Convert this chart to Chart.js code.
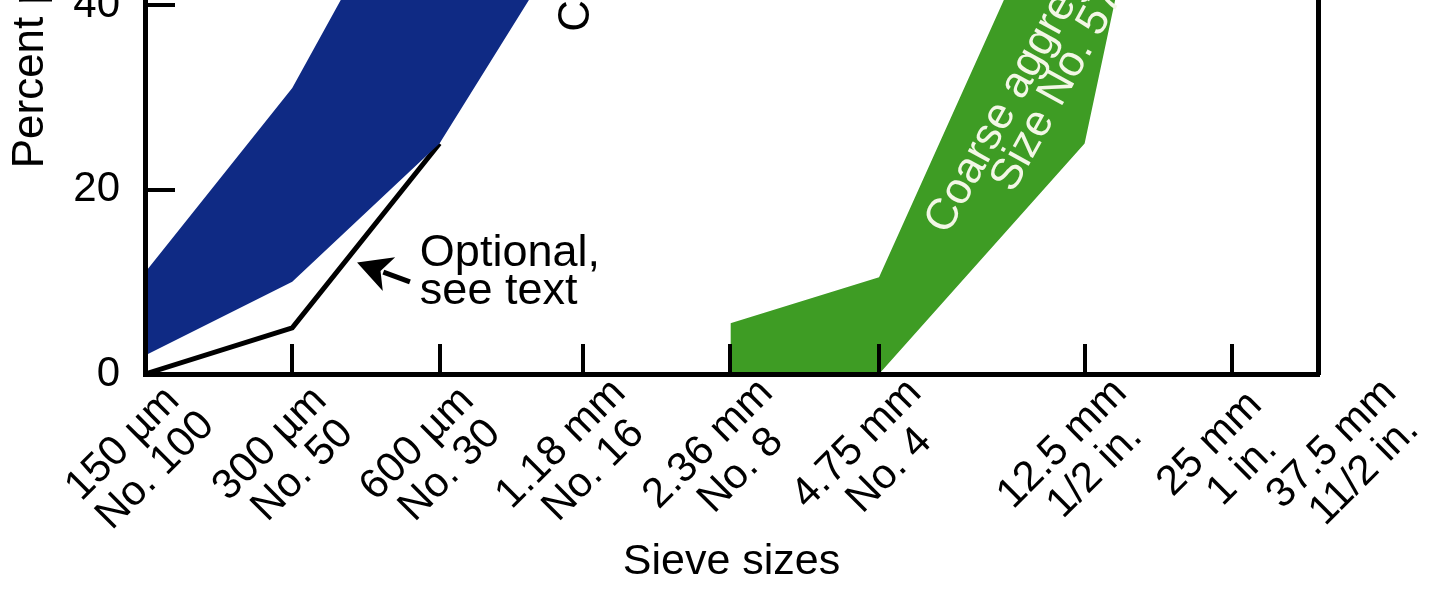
<!DOCTYPE html>
<html lang="en">
<head>
<meta charset="UTF-8">
<title>Grading limits – fine and coarse aggregate</title>
<script src="https://cdn.jsdelivr.net/npm/chart.js@4.4.1/dist/chart.umd.min.js"></script>
<style>
  html, body { margin: 0; padding: 0; background: #fff; overflow: hidden; }
  /* the figure is a crop: the plot runs on above the window */
  .wrap { position: absolute; left: 0; top: -60px; width: 1440px; height: 653px; }
</style>
</head>
<body>
<div class="wrap"><canvas id="grading"></canvas></div>
<script>
// sieve openings (mm) on a log axis
const sieveMm = [0.15, 0.3, 0.6, 1.18, 2.36, 4.75, 12.5, 25, 37.5];
const sieveLabels = [
  ['150 µm', 'No. 100'],
  ['300 µm', 'No. 50'],
  ['600 µm', 'No. 30'],
  ['1.18 mm', 'No. 16'],
  ['2.36 mm', 'No. 8'],
  ['4.75 mm', 'No. 4'],
  ['12.5 mm', '1/2 in.'],
  ['25 mm', '1 in.'],
  ['37.5 mm', '11/2 in.']
];
const percentTicks = [0, 20, 40];

// percent passing limits
const fineUpper    = [11, 31, 60, 85, 100, 100, null, null, null];
const fineLower    = [2, 10, 25, 50, 80, 95, null, null, null];
const optionalLine = [0, 5, 25, null, null, null, null, null, null];
const coarseUpper  = [null, null, null, null, 5.5, 10.5, 60, 100, 100];
const coarseLower  = [null, null, null, null, 0, 0, 25, 100, 100];

const FONT = "'Liberation Sans', Arial, Helvetica, sans-serif";
const BLUE = '#0f2a84';
const GREEN = '#3e9c24';

function toPoints(values) {
  return sieveMm.map((mm, i) => ({ x: mm, y: values[i] }));
}

// text + arrow, placed in data units
const notes = {
  optional: { x: 0.547, y: 11.7, lines: ['Optional,', 'see text'] },
  arrowTail: { x: 0.522, y: 10.0 },
  arrowTip: { x: 0.407, y: 12.1 },
  coarse: { x: 9.8, y: 31.7, angle: -61, lines: ['Coarse aggregate', 'Size No. 57'] },
  fine: { x: 1.21, y: 37.1, angle: -90, text: 'C' },
  yTitle: { y: 22.3, text: 'Percent passing' }
};

// sieve labels: two centred lines at 45 degrees below each tick
const sieveLabelPlugin = {
  id: 'sieveLabels',
  afterDraw(chart) {
    const { ctx, chartArea } = chart;
    const xs = chart.scales.x;
    const a = -Math.PI / 4, lh = 42;
    ctx.save();
    ctx.fillStyle = '#000';
    ctx.font = '42px ' + FONT;
    ctx.textAlign = 'center';
    ctx.textBaseline = 'middle';
    sieveMm.forEach((mm, i) => {
      const px = xs.getPixelForValue(mm);
      // the last label sits on the frame and is pushed out a little
      const nudge = i === sieveMm.length - 1 ? 36 : 0;
      ctx.save();
      ctx.translate(px - 22 + nudge, chartArea.bottom + 70);
      ctx.rotate(a);
      sieveLabels[i].forEach((t, j) => ctx.fillText(t, j * 4, j * lh));
      ctx.restore();
    });
    ctx.restore();
  }
};

const annotate = {
  id: 'annotate',
  afterDraw(chart) {
    const { ctx, chartArea } = chart;
    const xs = chart.scales.x, ys = chart.scales.y;
    ctx.save();
    ctx.fillStyle = '#000';

    // y axis title, off-centre because the figure is cropped
    ctx.save();
    ctx.font = '44px ' + FONT;
    ctx.translate(chartArea.left - 102, ys.getPixelForValue(notes.yTitle.y));
    ctx.rotate(-Math.PI / 2);
    ctx.textAlign = 'left';
    ctx.textBaseline = 'alphabetic';
    ctx.fillText(notes.yTitle.text, 0, 0);
    ctx.restore();

    // "Optional, see text"
    ctx.font = '45px ' + FONT;
    ctx.textAlign = 'left';
    ctx.textBaseline = 'alphabetic';
    const ox = xs.getPixelForValue(notes.optional.x);
    const oy = ys.getPixelForValue(notes.optional.y);
    notes.optional.lines.forEach((t, i) => ctx.fillText(t, ox, oy + i * 38));

    // arrow
    const tx = xs.getPixelForValue(notes.arrowTip.x), ty = ys.getPixelForValue(notes.arrowTip.y);
    const sx = xs.getPixelForValue(notes.arrowTail.x), sy = ys.getPixelForValue(notes.arrowTail.y);
    const len = Math.hypot(tx - sx, ty - sy);
    const ux = (tx - sx) / len, uy = (ty - sy) / len;
    const head = 34, half = 18;
    const bx = tx - ux * head, by = ty - uy * head;
    ctx.strokeStyle = '#000';
    ctx.lineWidth = 5;
    ctx.beginPath();
    ctx.moveTo(sx, sy);
    ctx.lineTo(bx + ux * 6, by + uy * 6);
    ctx.stroke();
    ctx.beginPath();
    ctx.moveTo(tx, ty);
    ctx.lineTo(bx - uy * half, by + ux * half);
    ctx.lineTo(bx + ux * 9, by + uy * 9);
    ctx.lineTo(bx + uy * half, by - ux * half);
    ctx.closePath();
    ctx.fill();

    // label inside the green band
    ctx.save();
    ctx.fillStyle = '#f3f7e6';
    ctx.font = '44px ' + FONT;
    ctx.textAlign = 'center';
    ctx.translate(xs.getPixelForValue(notes.coarse.x), ys.getPixelForValue(notes.coarse.y));
    ctx.rotate(notes.coarse.angle * Math.PI / 180);
    notes.coarse.lines.forEach((t, i) => ctx.fillText(t, i * 6, i * 37));
    ctx.restore();

    // label of the fine band, cut by the crop
    ctx.save();
    ctx.font = '44px ' + FONT;
    ctx.textAlign = 'left';
    ctx.translate(xs.getPixelForValue(notes.fine.x), ys.getPixelForValue(notes.fine.y));
    ctx.rotate(notes.fine.angle * Math.PI / 180);
    ctx.fillText(notes.fine.text, 0, 0);
    ctx.restore();

    ctx.restore();
  }
};

const band = { borderWidth: 0, borderColor: 'transparent', pointRadius: 0, tension: 0 };

new Chart(document.getElementById('grading'), {
  type: 'line',
  data: {
    datasets: [
      { ...band, label: 'Fine upper', data: toPoints(fineUpper), backgroundColor: BLUE, fill: '+1' },
      { ...band, label: 'Fine lower', data: toPoints(fineLower), fill: false },
      { ...band, label: 'Coarse upper', data: toPoints(coarseUpper), backgroundColor: GREEN, fill: '+1' },
      { ...band, label: 'Coarse lower', data: toPoints(coarseLower), fill: false },
      // last dataset is drawn first, so the blue band covers the end of this line
      { label: 'Optional', data: toPoints(optionalLine), borderColor: '#000', borderWidth: 5,
        pointRadius: 0, fill: false, borderJoinStyle: 'miter' }
    ]
  },
  options: {
    responsive: true,
    maintainAspectRatio: false,
    animation: false,
    layout: { padding: { top: 19, right: 122, bottom: 0, left: 0 } },
    plugins: { legend: { display: false }, tooltip: { enabled: false } },
    scales: {
      x: {
        type: 'logarithmic',
        position: 'bottom',
        min: 0.15,
        max: 37.5,
        afterBuildTicks: (s) => { s.ticks = sieveMm.map(v => ({ value: v })); },
        afterFit: (s) => { s.height = 219; s.paddingLeft = 0; s.paddingRight = 0; },
        ticks: { display: false, autoSkip: false },
        grid: { drawOnChartArea: false, drawTicks: true, tickLength: -30, lineWidth: 4, color: '#000', z: 1 },
        border: { display: true, width: 5, color: '#000', z: 1 },
        title: {
          display: true,
          text: 'Sieve sizes',
          color: '#000',
          font: { family: FONT, size: 43 },
          padding: { top: 0, bottom: 5 }
        }
      },
      y: {
        type: 'linear',
        position: 'left',
        min: 0,
        max: 45,
        afterBuildTicks: (s) => { s.ticks = percentTicks.map(v => ({ value: v })); },
        afterFit: (s) => { s.width = 145; s.paddingTop = 0; s.paddingBottom = 0; },
        ticks: { padding: 55, color: '#000', font: { family: FONT, size: 42 } },
        grid: { drawOnChartArea: false, drawTicks: true, tickLength: -30, lineWidth: 4, color: '#000', z: 1 },
        border: { display: true, width: 5, color: '#000', z: 1 }
      },
      yRight: {
        type: 'linear',
        position: 'right',
        ticks: { display: false },
        grid: { display: false },
        border: { display: true, width: 5, color: '#000', z: 1 },
        afterFit: (s) => { s.width = 0; s.paddingTop = 0; s.paddingBottom = 0; }
      }
    }
  },
  plugins: [sieveLabelPlugin, annotate]
});
</script>
</body>
</html>
